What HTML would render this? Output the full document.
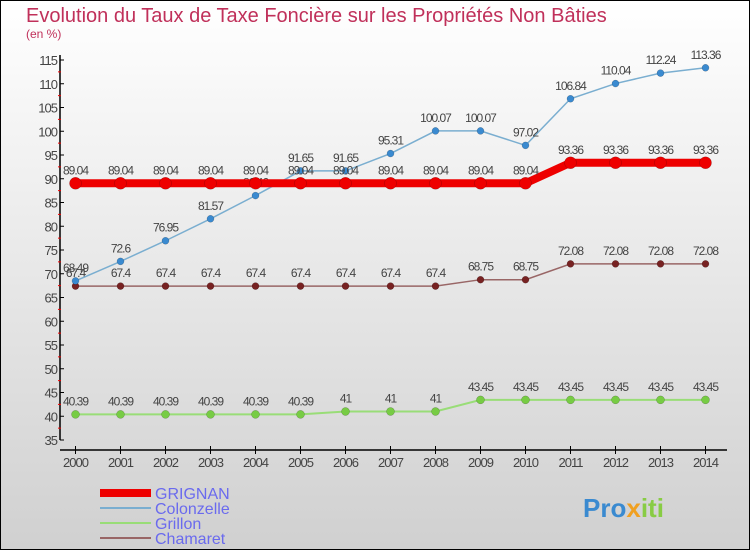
<!DOCTYPE html>
<html><head><meta charset="utf-8"><style>
body{margin:0;width:750px;height:550px;overflow:hidden;font-family:"Liberation Sans",sans-serif}
</style></head><body>
<svg width="750" height="550" xmlns="http://www.w3.org/2000/svg">
<defs><linearGradient id="bg" x1="0" y1="0" x2="0" y2="1"><stop offset="0" stop-color="#ffffff"/><stop offset="1" stop-color="#d0d0d0"/></linearGradient></defs>
<rect x="0.5" y="0.5" width="749" height="549" fill="url(#bg)" stroke="#000"/>
<text x="26" y="22" font-size="20" fill="#c0305a">Evolution du Taux de Taxe Foncière sur les Propriétés Non Bâties</text>
<text x="26" y="38" font-size="12" fill="#c0305a">(en %)</text>
<g id="axes"></g>
<g id="series"></g>
<g>
<line x1="100" y1="493" x2="151" y2="493" stroke="#ee0000" stroke-width="8"/>
<text x="155" y="499" font-size="16" fill="#6a6aee">GRIGNAN</text>
<line x1="100" y1="508" x2="151" y2="508" stroke="#7aaed0" stroke-width="2"/>
<text x="155" y="514" font-size="16" fill="#6a6aee">Colonzelle</text>
<line x1="100" y1="523" x2="151" y2="523" stroke="#99dd77" stroke-width="2"/>
<text x="155" y="529" font-size="16" fill="#6a6aee">Grillon</text>
<line x1="100" y1="538" x2="151" y2="538" stroke="#996666" stroke-width="2"/>
<text x="155" y="544" font-size="16" fill="#6a6aee">Chamaret</text>
</g>
<text x="583" y="517" font-size="26" font-weight="bold" fill="#3a8ad0">Pro<tspan fill="#f0a020">x</tspan><tspan fill="#88cc44">iti</tspan></text>
</svg>
<script>
const years=[2000,2001,2002,2003,2004,2005,2006,2007,2008,2009,2010,2011,2012,2013,2014];
const yTicks=[35,40,45,50,55,60,65,70,75,80,85,90,95,100,105,110,115];
const grignan=[89.04,89.04,89.04,89.04,89.04,89.04,89.04,89.04,89.04,89.04,89.04,93.36,93.36,93.36,93.36];
const colonzelle=[68.49,72.6,76.95,81.57,86.46,91.65,91.65,95.31,100.07,100.07,97.02,106.84,110.04,112.24,113.36];
const grillon=[40.39,40.39,40.39,40.39,40.39,40.39,41,41,41,43.45,43.45,43.45,43.45,43.45,43.45];
const chamaret=[67.4,67.4,67.4,67.4,67.4,67.4,67.4,67.4,67.4,68.75,68.75,72.08,72.08,72.08,72.08];
const NS="http://www.w3.org/2000/svg";
const xS=i=>75.5+i*45;
const yS=v=>440-(v-35)*4.75;
function mk(t,a,p){const e=document.createElementNS(NS,t);for(const k in a)e.setAttribute(k,a[k]);p.appendChild(e);return e;}
const ax=document.getElementById('axes');
const yl=mk('line',{x1:60,y1:55,x2:60,y2:440,stroke:'#000','stroke-width':1.5},ax);


yTicks.forEach(v=>{
 mk('line',{x1:60,y1:yS(v),x2:64,y2:yS(v),stroke:'#000'},ax);
 if(v<115) mk('line',{x1:58,y1:yS(v+2.5),x2:61,y2:yS(v+2.5),stroke:'#e00'},ax);
 const t=mk('text',{x:57,y:yS(v)+5,'font-size':13,fill:'#444','text-anchor':'end','letter-spacing':'-1'},ax);
 t.textContent=v;
 
 
});
const xl=mk('line',{x1:60,y1:450,x2:727,y2:450,stroke:'#000','stroke-width':1.5},ax);


years.forEach((y,i)=>{
 mk('line',{x1:xS(i),y1:446,x2:xS(i),y2:454,stroke:'#000'},ax);
 const t=mk('text',{x:xS(i),y:467,'font-size':13,fill:'#444','text-anchor':'middle','letter-spacing':'-1'},ax);
 t.textContent=y;
 
 
});
const sg=document.getElementById('series');
function draw(name,data,color,w,dotC,r){
 const g=mk('g',{},sg);
 
 
 const p=mk('polyline',{points:data.map((v,i)=>xS(i)+','+yS(v)).join(' '),fill:'none',stroke:color,'stroke-width':w},g);
 
 
 data.forEach((v,i)=>{
  const c=mk('circle',{cx:xS(i),cy:yS(v),r:r,fill:dotC,stroke:'rgba(0,0,0,0.3)','stroke-width':0.5},g);
  
  
  const t=mk('text',{x:xS(i),y:yS(v)-9,'font-size':12,fill:'#444','text-anchor':'middle','letter-spacing':'-1'},g);
  t.textContent=String(v);
  
  
 });
}
draw('grillon',grillon,'#99dd77',2,'#77cc44',4);
draw('chamaret',chamaret,'#996666',1.5,'#772222',3.5);
draw('colonzelle',colonzelle,'#7aaed0',1.5,'#3a8ad0',3.5);
draw('grignan',grignan,'#ee0000',8,'#ee0000',6);
</script>
</body></html>
